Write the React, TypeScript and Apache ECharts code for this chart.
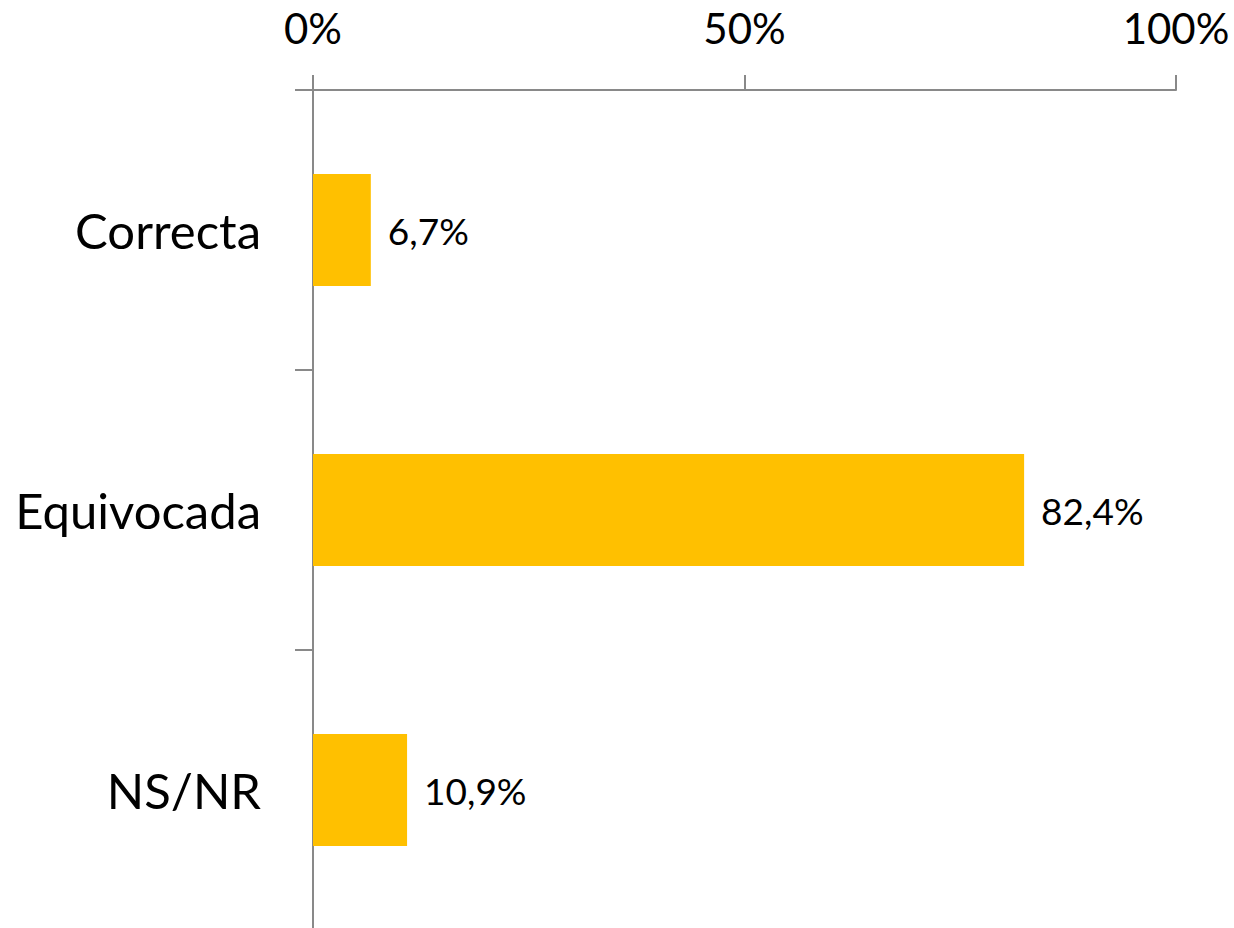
import React, { useEffect, useRef } from "react";
import * as echarts from "echarts";

const categories = ["Correcta", "Equivocada", "NS/NR"];
const values = [6.7, 82.4, 10.9];
const axisMin = 0;
const axisMax = 100;
const axisInterval = 50;

export default function App() {
  const ref = useRef<HTMLDivElement>(null);
  useEffect(() => {
    document.body.style.margin = "0";
    const chart = echarts.init(ref.current!, null, { renderer: "svg" });
    const axisColor = "#898989";
    chart.setOption({
      animation: false,
      backgroundColor: "#ffffff",
      grid: { left: 313, right: 58, top: 90, bottom: 10, containLabel: false },
      xAxis: {
        type: "value",
        position: "top",
        min: axisMin,
        max: axisMax,
        interval: axisInterval,
        axisLine: { show: true, lineStyle: { color: axisColor, width: 2 } },
        axisTick: { show: true, length: 15, lineStyle: { color: axisColor, width: 2 } },
        splitLine: { show: false },
        axisLabel: {
          formatter: "{value}%",
          fontFamily: "Lato",
          fontSize: 42,
          color: "#000000",
          margin: 41,
        },
      },
      yAxis: {
        type: "category",
        data: categories,
        inverse: true,
        axisLine: { show: true, lineStyle: { color: axisColor, width: 2 } },
        axisTick: { show: true, length: 18, lineStyle: { color: axisColor, width: 2 } },
        axisLabel: {
          fontFamily: "Lato",
          fontSize: 49,
          color: "#000000",
          margin: 52,
        },
      },
      series: [
        {
          type: "bar",
          data: values,
          barWidth: "40%",
          itemStyle: { color: "#FFC000" },
          label: {
            show: true,
            position: "right",
            distance: 17,
            fontFamily: "Lato",
            fontSize: 37,
            color: "#000000",
            formatter: (p: any) => p.value.toFixed(1).replace(".", ",") + "%",
          },
        },
      ],
    });
    return () => chart.dispose();
  }, []);
  return (
    <div style={{ width: 1234, height: 928, overflow: "hidden" }}>
      <div ref={ref} style={{ width: 1234, height: 940 }} />
    </div>
  );
}
